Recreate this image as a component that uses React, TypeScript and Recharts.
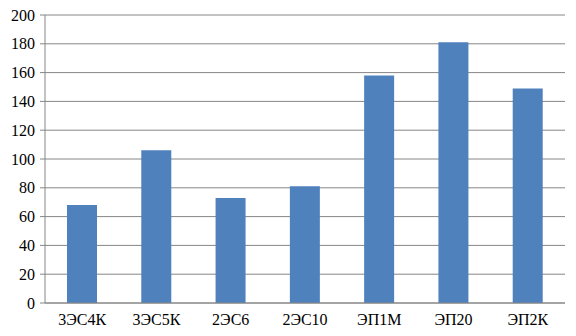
import { BarChart, Bar, XAxis, YAxis, CartesianGrid } from "recharts";

const categories = ["3ЭС4К", "3ЭС5К", "2ЭС6", "2ЭС10", "ЭП1М", "ЭП20", "ЭП2К"];
const values = [68, 106, 73, 81, 158, 181, 149];
const yTicks = [0, 20, 40, 60, 80, 100, 120, 140, 160, 180, 200];
const boundaryTicks = [0, 1, 2, 3, 4, 5, 6, 7];

const data = categories.map((name, i) => ({ name, value: values[i] }));

const GRID = "#868686";
const SERIF = "'Liberation Serif', 'Times New Roman', serif";
const FONT = { fontSize: 16, fill: "#000", fontFamily: SERIF };

export default function App() {
  return (
    <div style={{ position: "absolute", left: 0, top: 0, background: "#fff", fontFamily: SERIF }}>
      <BarChart
        width={576}
        height={336}
        data={data}
        style={{ fontFamily: SERIF }}
        margin={{ top: 15, right: 11, bottom: 0, left: 0 }}
      >
        <CartesianGrid vertical={false} stroke={GRID} strokeWidth={1} />
        {/* boundary ticks between categories */}
        <XAxis
          xAxisId="b"
          type="number"
          domain={[0, 7]}
          ticks={boundaryTicks}
          height={0}
          axisLine={false}
          tickLine={{ stroke: GRID }}
          tickSize={5}
          tickFormatter={() => ""}
          interval={0}
        />
        <XAxis
          xAxisId="cat"
          dataKey="name"
          height={33}
          interval={0}
          axisLine={{ stroke: GRID }}
          tickLine={false}
          tickSize={5}
          tickMargin={6}
          tick={FONT}
        />
        <YAxis
          domain={[0, 200]}
          ticks={yTicks}
          width={45}
          interval={0}
          axisLine={{ stroke: GRID }}
          tickLine={{ stroke: GRID }}
          tickSize={5}
          tickMargin={5}
          tick={FONT}
        />
        <Bar xAxisId="cat" dataKey="value" fill="#4f81bd" barSize={30} isAnimationActive={false} />
      </BarChart>
    </div>
  );
}
